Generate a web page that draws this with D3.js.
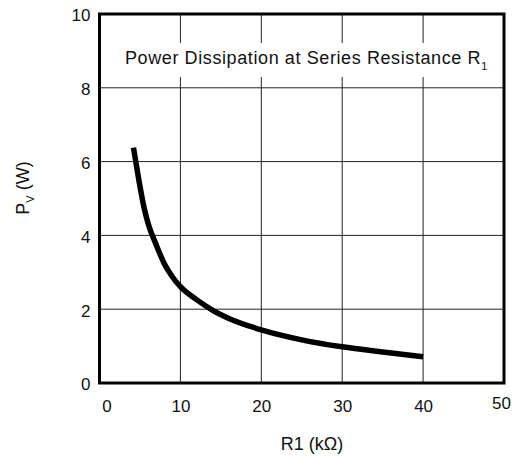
<!DOCTYPE html>
<html>
<head>
<meta charset="utf-8">
<script src="https://cdn.jsdelivr.net/npm/d3@7"></script>
<style>
  body { margin: 0; background: #fff; }
  svg text { font-family: "Liberation Sans", Arial, Helvetica, sans-serif; fill: #111; }
</style>
</head>
<body>
<div id="chart"></div>
<script>
// values
const resistance = [4.2, 4.5, 5, 5.5, 6, 7, 8, 9, 10, 12, 14, 16, 20, 25, 30, 35, 40];
const power = [6.38, 5.98, 5.33, 4.76, 4.33, 3.75, 3.24, 2.88, 2.61, 2.26, 1.97, 1.75, 1.44, 1.17, 0.98, 0.84, 0.71];
const xTicks = [0, 10, 20, 30, 40, 50];
const yTicks = [0, 2, 4, 6, 8, 10];

const width = 515;
const height = 462;
const margin = {top: 14, right: 11, bottom: 79, left: 99.5};

const svg = d3
  .select('#chart')
  .append('svg')
  .attr('width', width)
  .attr('height', height)
  .attr('viewBox', `0,0,${width},${height}`);

const x = d3
  .scaleLinear()
  .domain([0, 50])
  .range([margin.left, width - margin.right]);

const y = d3
  .scaleLinear()
  .domain([0, 10])
  .range([height - margin.bottom, margin.top]);

// grid
const grid = svg.append('g').attr('stroke', '#222').attr('stroke-width', 1);
grid
  .selectAll('line.v')
  .data(xTicks.slice(1, -1))
  .join('line')
  .attr('class', 'v')
  .attr('x1', d => x(d))
  .attr('x2', d => x(d))
  .attr('y1', y(0))
  .attr('y2', y(10));
grid
  .selectAll('line.h')
  .data(yTicks.slice(1, -1))
  .join('line')
  .attr('class', 'h')
  .attr('x1', x(0))
  .attr('x2', x(50))
  .attr('y1', d => y(d))
  .attr('y2', d => y(d));

// title box inside the plot
const titleBg = svg.append('rect').attr('fill', '#fff');
const title = svg
  .append('text')
  .attr('x', 125)
  .attr('y', 64)
  .style('font-size', '18px')
  .style('letter-spacing', '0.6px');
title.append('tspan').text('Power Dissipation at Series Resistance R');
title.append('tspan').attr('dy', 6).style('font-size', '11px').text('1');
const tb = title.node().getBBox();
titleBg
  .attr('x', tb.x - 8)
  .attr('width', tb.width + 16)
  .attr('y', 43)
  .attr('height', 34);

// curve
const line = d3
  .line()
  .x((d, i) => x(resistance[i]))
  .y(d => y(d))
  .curve(d3.curveMonotoneX);

svg
  .append('path')
  .datum(power)
  .attr('fill', 'none')
  .attr('stroke', '#000')
  .attr('stroke-width', 5.5)
  .attr('d', line);

// frame
svg
  .append('rect')
  .attr('x', x(0))
  .attr('y', y(10))
  .attr('width', x(50) - x(0))
  .attr('height', y(0) - y(10))
  .attr('fill', 'none')
  .attr('stroke', '#000')
  .attr('stroke-width', 3);

// axes
svg
  .append('g')
  .attr('transform', `translate(0,${y(0)})`)
  .call(d3.axisBottom(x).tickValues(xTicks).tickSize(0).tickPadding(17))
  .call(g => g.select('.domain').remove())
  .call(g => g.selectAll('text').style('font-size', '17px').attr('fill', '#111'))
  .call(g => g.select('.tick:first-of-type text').attr('dx', 7))
  .call(g => g.select('.tick:last-of-type text').attr('dx', -3).attr('y', 14));

svg
  .append('g')
  .attr('transform', `translate(${x(0)},0)`)
  .call(d3.axisLeft(y).tickValues(yTicks).tickSize(0).tickPadding(9))
  .call(g => g.select('.domain').remove())
  .call(g => g.selectAll('text').style('font-size', '17px').attr('fill', '#111').attr('dy', '0.4em'));

// axis titles
svg
  .append('text')
  .attr('x', 312)
  .attr('y', 450)
  .attr('text-anchor', 'middle')
  .style('font-size', '18px')
  .text('R1 (kΩ)');

const yTitle = svg
  .append('text')
  .attr('transform', 'translate(29,188) rotate(-90)')
  .attr('text-anchor', 'middle')
  .style('font-size', '18px');
yTitle.append('tspan').text('P');
yTitle.append('tspan').attr('dy', 5).style('font-size', '11px').text('V');
yTitle.append('tspan').attr('dy', -5).text(' (W)');
</script>
</body>
</html>
